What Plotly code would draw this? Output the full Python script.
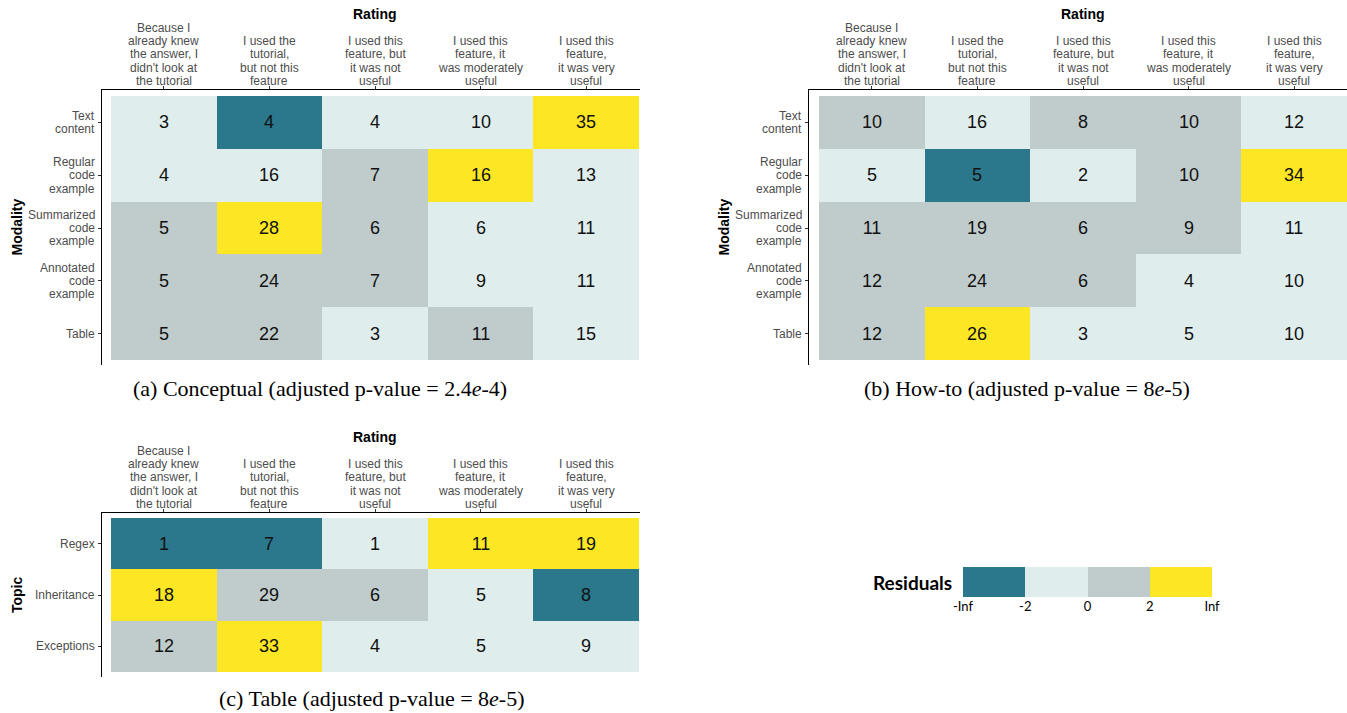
import plotly.graph_objects as go

W, H = 1347, 713

# ---------------- data ----------------
rating_labels = [
    ["Because I", "already knew", "the answer, I", "didn't look at", "the tutorial"],
    ["I used the", "tutorial,", "but not this", "feature"],
    ["I used this", "feature, but", "it was not", "useful"],
    ["I used this", "feature, it", "was moderately", "useful"],
    ["I used this", "feature,", "it was very", "useful"],
]
modality_labels = [["Text", "content"], ["Regular", "code", "example"], ["Summarized", "code", "example"],
                   ["Annotated", "code", "example"], ["Table"]]
topic_labels = [["Regex"], ["Inheritance"], ["Exceptions"]]

# counts
counts_a = [[3, 4, 4, 10, 35],
            [4, 16, 7, 16, 13],
            [5, 28, 6, 6, 11],
            [5, 24, 7, 9, 11],
            [5, 22, 3, 11, 15]]
counts_b = [[10, 16, 8, 10, 12],
            [5, 5, 2, 10, 34],
            [11, 19, 6, 9, 11],
            [12, 24, 6, 4, 10],
            [12, 26, 3, 5, 10]]
counts_c = [[1, 7, 1, 11, 19],
            [18, 29, 6, 5, 8],
            [12, 33, 4, 5, 9]]

# residual class: 0 = (-Inf,-2], 1 = (-2,0], 2 = (0,2], 3 = (2,Inf)
resid_a = [[1, 0, 1, 1, 3],
           [1, 1, 2, 3, 1],
           [2, 3, 2, 1, 1],
           [2, 2, 2, 1, 1],
           [2, 2, 1, 2, 1]]
resid_b = [[2, 1, 2, 2, 1],
           [1, 0, 1, 2, 3],
           [2, 2, 2, 2, 1],
           [2, 2, 2, 1, 1],
           [2, 3, 1, 1, 1]]
resid_c = [[0, 0, 1, 3, 3],
           [3, 2, 2, 1, 0],
           [2, 3, 1, 1, 1]]

legend_classes = [0, 1, 2, 3]
legend_ticks = ["-Inf", "-2", "0", "2", "Inf"]

captions = ["(a) Conceptual (adjusted p-value = 2.4<i>e</i>-4)",
            "(b) How-to (adjusted p-value = 8<i>e</i>-5)",
            "(c) Table (adjusted p-value = 8<i>e</i>-5)"]

# ---------------- styling ----------------
C_TEAL, C_LIGHT, C_GRAY, C_YELLOW = "#2b778b", "#dfeded", "#c0cccc", "#fde725"
cscale = [[0, C_TEAL], [0.25, C_TEAL], [0.25, C_LIGHT], [0.5, C_LIGHT],
          [0.5, C_GRAY], [0.75, C_GRAY], [0.75, C_YELLOW], [1, C_YELLOW]]
SANS = "Liberation Sans, Arial, sans-serif"
SERIF = "Liberation Serif, Times New Roman, serif"
LBL_FONT = dict(family=SANS, size=12, color="#4d4d4d")
LINE = 13.3

def px(x):
    return min(max(x / W, 0.0), 1.0)

def py(y):
    return min(max(1 - y / H, 0.0), 1.0)

fig = go.Figure()

def add_panel(idx, counts, resid, ylabels, ytitle, ax_left, ax_top, cell_left, cell_top, cell_right,
              cell_bottom, ax_bottom):
    xa = "x" if idx == 1 else f"x{idx}"
    ya = "y" if idx == 1 else f"y{idx}"
    ncol = len(counts[0])
    nrow = len(counts)
    fig.add_trace(go.Heatmap(
        z=resid, x=list(range(ncol)), y=list(range(nrow)), text=counts,
        texttemplate="%{text}", textfont=dict(family=SANS, size=18, color="#111"),
        colorscale=cscale, zmin=0, zmax=3, showscale=False, xgap=0, ygap=0,
        xaxis=xa, yaxis=ya, hoverinfo="skip"))
    cw = (cell_right - cell_left) / ncol
    rh = (cell_bottom - cell_top) / nrow
    ax_right = min(cell_right + 1, W)
    x0 = -0.5 - (cell_left - ax_left) / cw
    x1 = ncol - 0.5 + (ax_right - cell_right) / cw
    y_top = -0.5 - (cell_top - ax_top) / rh
    y_bot = nrow - 0.5 + (ax_bottom - cell_bottom) / rh
    xkey = "xaxis" if idx == 1 else f"xaxis{idx}"
    ykey = "yaxis" if idx == 1 else f"yaxis{idx}"
    fig.update_layout(**{
        xkey: dict(domain=[px(ax_left), px(ax_right)], range=[x0, x1], side="top",
                   anchor=ya, tickvals=list(range(ncol)), showticklabels=False,
                   showline=True, linecolor="black", linewidth=1, ticks="outside",
                   ticklen=3, tickcolor="#333", showgrid=False, automargin=False,
                   zeroline=False, fixedrange=True),
        ykey: dict(domain=[py(ax_bottom), py(ax_top)], range=[y_bot, y_top],
                   anchor=xa, tickvals=list(range(nrow)), showticklabels=False,
                   showline=True, linecolor="black", linewidth=1, ticks="outside",
                   ticklen=3, tickcolor="#333", showgrid=False, automargin=False,
                   zeroline=False, fixedrange=True),
    })
    # column tick labels (one text line each, tight line spacing)
    for ci, lines in enumerate(rating_labels):
        n = len(lines)
        for li, s in enumerate(lines):
            fig.add_annotation(x=ci, xref=xa, y=py(ax_top), yref="paper",
                               yshift=9 + (n - 1 - li) * LINE, text=s, showarrow=False,
                               xanchor="center", yanchor="middle", font=LBL_FONT)
    # row tick labels
    for ri, lines in enumerate(ylabels):
        n = len(lines)
        for li, s in enumerate(lines):
            fig.add_annotation(x=px(ax_left - 5), xref="paper", y=ri, yref=ya,
                               yshift=((n - 1) / 2 - li) * LINE, text=s, showarrow=False,
                               xanchor="right", yanchor="middle", font=LBL_FONT)
    # axis titles
    fig.add_annotation(x=px((cell_left + cell_right) / 2), y=py(ax_top - 76), xref="paper", yref="paper",
                       text="<b>Rating</b>", showarrow=False, xanchor="center", yanchor="middle",
                       font=dict(family=SANS, size=14, color="black"))
    fig.add_annotation(x=px(ax_left - 85), y=py((ax_top + ax_bottom) / 2), xref="paper", yref="paper",
                       text=f"<b>{ytitle}</b>", showarrow=False, textangle=-90,
                       xanchor="center", yanchor="middle",
                       font=dict(family=SANS, size=14, color="black"))

add_panel(1, counts_a, resid_a, modality_labels, "Modality",
          ax_left=102, ax_top=90, cell_left=111, cell_top=96, cell_right=639, cell_bottom=360, ax_bottom=365)
add_panel(2, counts_b, resid_b, modality_labels, "Modality",
          ax_left=809, ax_top=90, cell_left=819, cell_top=96, cell_right=1347, cell_bottom=360, ax_bottom=365)
add_panel(3, counts_c, resid_c, topic_labels, "Topic",
          ax_left=102, ax_top=513, cell_left=111, cell_top=518, cell_right=639, cell_bottom=672, ax_bottom=677)

# captions
for (cx, cy), txt in zip([(320, 388), (1027, 388), (372, 698)], captions):
    fig.add_annotation(x=px(cx), y=py(cy), xref="paper", yref="paper", text=txt, showarrow=False,
                       xanchor="center", yanchor="middle",
                       font=dict(family=SERIF, size=22, color="black"))

# legend (residuals colour key)
fig.add_trace(go.Heatmap(z=[legend_classes], x=legend_classes, y=[0], colorscale=cscale, zmin=0, zmax=3,
                         showscale=False, xaxis="x4", yaxis="y4", hoverinfo="skip"))
fig.update_layout(
    xaxis4=dict(domain=[px(963), px(1212)], range=[-0.5, 3.5], anchor="y4",
                tickvals=[-0.5, 0.5, 1.5, 2.5, 3.5], ticktext=legend_ticks, automargin=False,
                showline=False, showgrid=False, zeroline=False, ticks="",
                tickfont=dict(family="Lato, Open Sans, sans-serif", size=13, color="black"), fixedrange=True),
    yaxis4=dict(domain=[py(597), py(567)], range=[-0.5, 0.5], anchor="x4", showticklabels=False,
                automargin=False,
                showline=False, showgrid=False, zeroline=False, ticks="", fixedrange=True),
)
fig.add_annotation(x=px(954), y=py(582), xref="paper", yref="paper", xanchor="right", yanchor="middle",
                   text="<b>Residuals</b>", showarrow=False,
                   font=dict(family="Lato, Open Sans, sans-serif", size=19, color="black"))

fig.update_layout(width=W, height=H, margin=dict(l=0, r=0, t=0, b=0, autoexpand=False),
                  paper_bgcolor="white", plot_bgcolor="white", showlegend=False)

fig.write_html("out.html")
